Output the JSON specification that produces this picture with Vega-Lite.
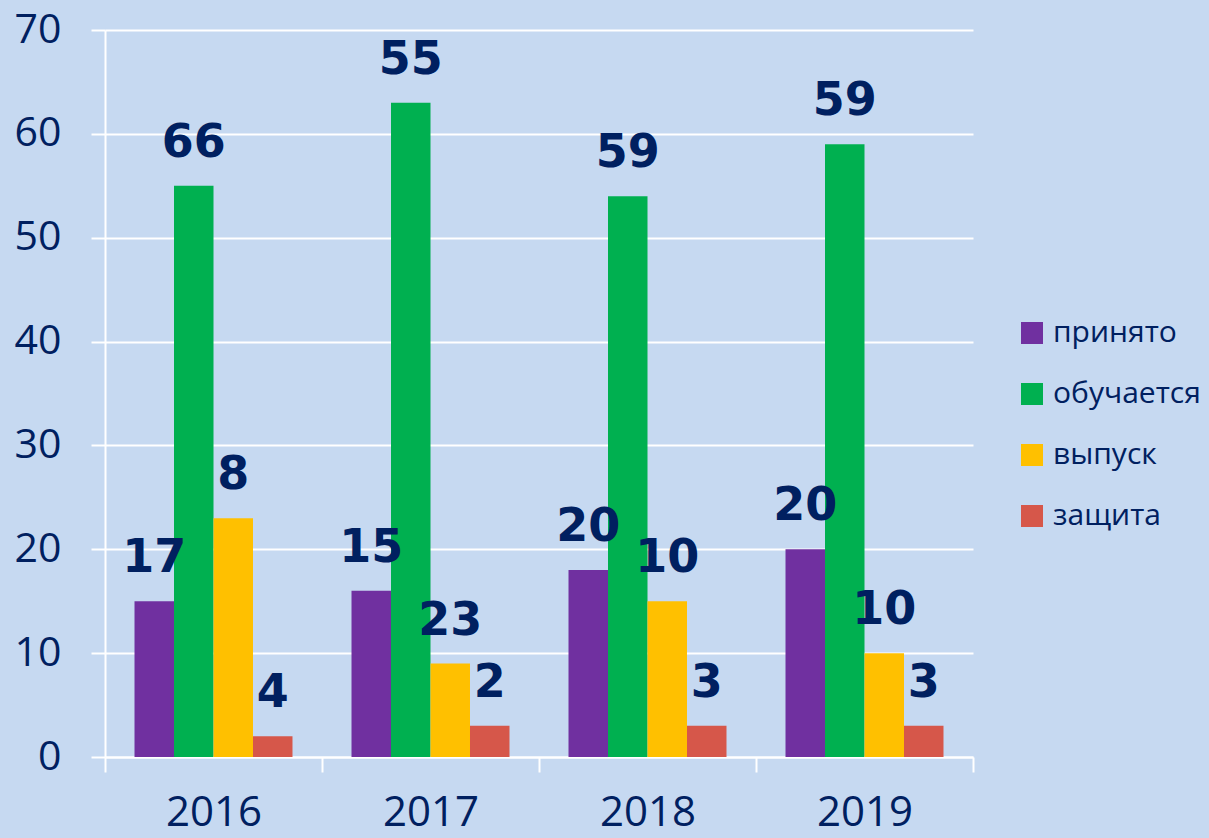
{
  "$schema": "https://vega.github.io/schema/vega-lite/v6.json",
  "autosize": "none",
  "width": 868,
  "height": 727,
  "padding": {"left": 105, "top": 30, "right": 236, "bottom": 81},
  "background": "#C6D9F1",
  "config": {
    "view": {"stroke": null},
    "font": "Open Sans"
  },
  "data": {
    "values": [
      {"year": "2016", "series": "принято", "value": 15, "label": 17},
      {"year": "2016", "series": "обучается", "value": 55, "label": 66},
      {"year": "2016", "series": "выпуск", "value": 23, "label": 8},
      {"year": "2016", "series": "защита", "value": 2, "label": 4},
      {"year": "2017", "series": "принято", "value": 16, "label": 15},
      {"year": "2017", "series": "обучается", "value": 63, "label": 55},
      {"year": "2017", "series": "выпуск", "value": 9, "label": 23},
      {"year": "2017", "series": "защита", "value": 3, "label": 2},
      {"year": "2018", "series": "принято", "value": 18, "label": 20},
      {"year": "2018", "series": "обучается", "value": 54, "label": 59},
      {"year": "2018", "series": "выпуск", "value": 15, "label": 10},
      {"year": "2018", "series": "защита", "value": 3, "label": 3},
      {"year": "2019", "series": "принято", "value": 20, "label": 20},
      {"year": "2019", "series": "обучается", "value": 59, "label": 59},
      {"year": "2019", "series": "выпуск", "value": 10, "label": 10},
      {"year": "2019", "series": "защита", "value": 3, "label": 3}
    ]
  },
  "encoding": {
    "x": {
      "field": "year",
      "type": "nominal",
      "scale": {"paddingInner": 0, "paddingOuter": 0},
      "axis": {
        "title": null,
        "labelAngle": 0,
        "labelFont": "Open Sans",
        "labelFontSize": 42,
        "labelColor": "#002060",
        "labelPadding": 20,
        "domainColor": "#FFFFFF",
        "domainWidth": 2,
        "tickColor": "#FFFFFF",
        "tickWidth": 2,
        "tickSize": 15,
        "tickBand": "extent",
        "grid": false
      }
    },
    "xOffset": {
      "field": "series",
      "type": "nominal",
      "sort": ["принято", "обучается", "выпуск", "защита"],
      "scale": {"paddingInner": 0, "paddingOuter": 0.747}
    },
    "y": {
      "field": "value",
      "type": "quantitative",
      "scale": {"domain": [0, 70], "nice": false},
      "axis": {
        "title": null,
        "values": [0, 10, 20, 30, 40, 50, 60, 70],
        "labelFont": "Open Sans",
        "labelFontSize": 41,
        "labelColor": "#002060",
        "labelPadding": 30,
        "domainColor": "#FFFFFF",
        "domainWidth": 2,
        "tickColor": "#FFFFFF",
        "tickWidth": 2,
        "tickSize": 14,
        "grid": true,
        "gridColor": "#FFFFFF",
        "gridWidth": 2,
        "gridOpacity": 1
      }
    }
  },
  "layer": [
    {
      "mark": {"type": "bar"},
      "encoding": {
        "color": {
          "field": "series",
          "type": "nominal",
          "scale": {
            "domain": ["принято", "обучается", "выпуск", "защита"],
            "range": ["#7030A0", "#00B050", "#FFC000", "#D6574A"]
          },
          "legend": {
            "title": null,
            "orient": "none",
            "legendX": 912,
            "legendY": 288,
            "symbolType": "square",
            "symbolSize": 484,
            "symbolStrokeWidth": 0,
            "labelFont": "Open Sans",
            "labelFontSize": 30,
            "labelColor": "#002060",
            "labelOffset": 6,
            "rowPadding": 31,
            "labelLimit": 300
          }
        }
      }
    },
    {
      "mark": {
        "type": "text",
        "font": "DejaVu Sans",
        "fontWeight": "bold",
        "fontSize": 46,
        "color": "#002060",
        "baseline": "middle",
        "align": "center",
        "dy": -43
      },
      "encoding": {
        "text": {"field": "label", "type": "quantitative"}
      }
    }
  ]
}
